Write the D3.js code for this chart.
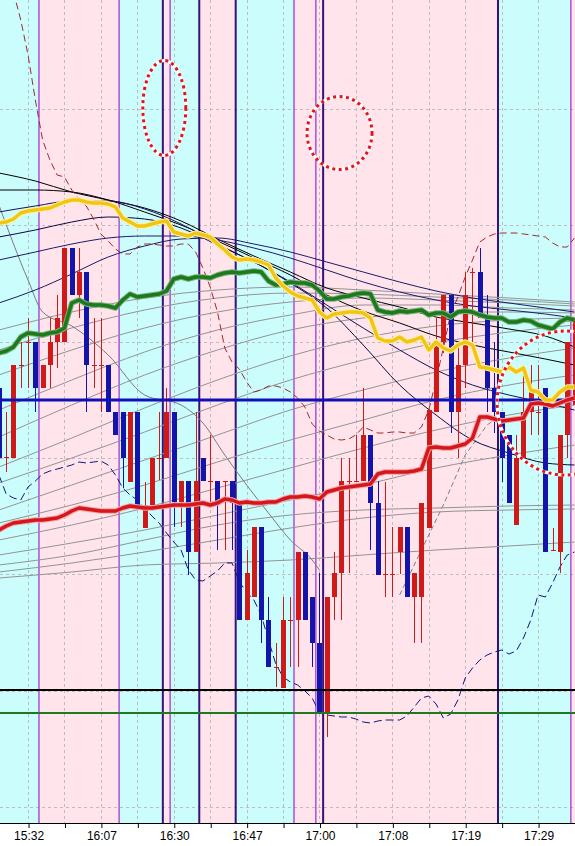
<!DOCTYPE html>
<html>
<head>
<meta charset="utf-8">
<script src="https://cdn.jsdelivr.net/npm/d3@7"></script>
<style>
  html, body { margin: 0; padding: 0; background: #fff; }
  svg { display: block; }
</style>
</head>
<body>
<div id="chart"></div>
<script>
// ---- bar data (one entry per bar, price) ----
const opens = [
  110.435,110.365,110.365,110.458,110.481,110.481,110.435,110.458,110.481,110.481,
  110.575,110.528,110.551,110.458,110.458,110.458,110.411,110.411,110.341,110.411,
  110.295,110.318,110.365,110.365,110.411,110.321,110.342,110.271,110.365,110.342,
  110.342,110.342,110.342,110.318,110.203,110.226,110.296,110.203,110.156,110.135,
  110.203,110.203,110.271,110.226,110.180,110.111,110.226,110.250,110.342,110.342,
  110.342,110.388,110.320,110.249,110.249,110.271,110.296,110.226,110.226,110.295,
  110.411,110.481,110.528,110.411,110.458,110.551,110.551,110.505,110.435,110.411,
  110.388,110.298,110.365,110.411,110.411,110.435,110.273,110.271,110.388,110.418];
const highs = [
  110.438,110.411,110.458,110.481,110.505,110.481,110.458,110.505,110.528,110.575,
  110.575,110.575,110.551,110.505,110.505,110.458,110.411,110.411,110.411,110.411,
  110.341,110.365,110.411,110.435,110.411,110.342,110.342,110.411,110.365,110.388,
  110.342,110.342,110.342,110.318,110.273,110.296,110.296,110.226,110.180,110.226,
  110.226,110.271,110.271,110.226,110.250,110.226,110.271,110.365,110.365,110.388,
  110.435,110.388,110.342,110.341,110.296,110.296,110.296,110.250,110.320,110.413,
  110.505,110.528,110.528,110.481,110.551,110.555,110.575,110.528,110.481,110.411,
  110.388,110.388,110.458,110.458,110.458,110.435,110.295,110.388,110.481,110.505];
const lows = [
  110.361,110.351,110.365,110.435,110.435,110.411,110.435,110.435,110.455,110.481,
  110.528,110.505,110.411,110.435,110.411,110.411,110.388,110.335,110.341,110.318,
  110.295,110.318,110.343,110.365,110.296,110.296,110.248,110.271,110.342,110.320,
  110.273,110.273,110.273,110.203,110.203,110.226,110.180,110.156,110.136,110.135,
  110.156,110.156,110.203,110.156,110.111,110.086,110.203,110.203,110.250,110.342,
  110.342,110.273,110.248,110.226,110.226,110.249,110.226,110.180,110.180,110.295,
  110.411,110.470,110.390,110.365,110.435,110.481,110.505,110.411,110.390,110.341,
  110.320,110.298,110.365,110.388,110.388,110.271,110.273,110.250,110.365,110.418];
const closes = [
  110.365,110.366,110.458,110.458,110.481,110.435,110.458,110.481,110.505,110.575,
  110.528,110.551,110.458,110.458,110.458,110.411,110.388,110.365,110.411,110.318,
  110.318,110.365,110.365,110.411,110.321,110.342,110.271,110.342,110.342,110.342,
  110.321,110.342,110.320,110.203,110.250,110.296,110.203,110.156,110.156,110.203,
  110.203,110.271,110.203,110.180,110.111,110.226,110.250,110.342,110.342,110.342,
  110.388,110.320,110.248,110.249,110.249,110.296,110.226,110.250,110.320,110.413,
  110.481,110.528,110.411,110.458,110.528,110.551,110.505,110.435,110.411,110.365,
  110.320,110.365,110.411,110.431,110.411,110.271,110.273,110.388,110.481,110.505];

// thick moving averages (per bar)
const maYellow = [
  110.600,110.601,110.604,110.610,110.612,110.613,110.614,110.615,110.618,110.621,
  110.623,110.623,110.621,110.620,110.620,110.619,110.616,110.605,110.601,110.597,
  110.597,110.599,110.601,110.602,110.591,110.589,110.587,110.590,110.588,110.586,
  110.579,110.573,110.566,110.563,110.564,110.563,110.561,110.558,110.545,110.537,
  110.531,110.527,110.525,110.523,110.511,110.505,110.509,110.510,110.511,110.511,
  110.510,110.505,110.485,110.482,110.482,110.486,110.481,110.483,110.486,110.473,
  110.481,110.475,110.472,110.478,110.481,110.478,110.456,110.455,110.453,110.451,
  110.456,110.451,110.455,110.433,110.431,110.423,110.423,110.431,110.436,110.436];
const maGreen = [
  110.470,110.472,110.476,110.486,110.490,110.489,110.488,110.490,110.491,110.495,
  110.520,110.523,110.519,110.518,110.518,110.517,110.515,110.523,110.529,110.526,
  110.527,110.528,110.529,110.532,110.544,110.546,110.544,110.546,110.546,110.545,
  110.548,110.550,110.551,110.550,110.551,110.552,110.551,110.542,110.538,110.539,
  110.541,110.540,110.540,110.538,110.532,110.524,110.524,110.526,110.527,110.529,
  110.530,110.529,110.513,110.511,110.510,110.512,110.511,110.512,110.513,110.508,
  110.510,110.510,110.506,110.511,110.512,110.511,110.508,110.506,110.505,110.505,
  110.501,110.501,110.503,110.502,110.498,110.496,110.494,110.501,110.505,110.503];
const maRed = [
  110.293,110.297,110.300,110.301,110.302,110.303,110.303,110.304,110.305,110.308,
  110.312,110.315,110.314,110.313,110.312,110.312,110.312,110.315,110.317,110.316,
  110.315,110.315,110.316,110.317,110.318,110.318,110.318,110.319,110.320,110.318,
  110.320,110.324,110.323,110.320,110.321,110.320,110.320,110.321,110.321,110.324,
  110.326,110.326,110.327,110.326,110.324,110.331,110.333,110.335,110.336,110.337,
  110.338,110.339,110.349,110.351,110.351,110.351,110.351,110.352,110.354,110.375,
  110.376,110.375,110.375,110.377,110.379,110.385,110.406,110.406,110.404,110.402,
  110.403,110.404,110.405,110.419,110.420,110.419,110.417,110.420,110.423,110.425];

// envelope bands (dashed)
const bandUpper = [
  null,null,110.831,110.803,110.768,110.723,110.683,110.663,110.648,110.646,
  110.633,110.624,110.617,110.604,110.589,110.582,110.574,110.569,110.569,110.576,
  110.579,110.579,110.578,110.577,110.577,110.579,110.579,110.571,110.555,110.536,
  110.511,110.475,110.461,110.454,110.441,110.431,110.433,110.437,110.437,110.435,
  110.431,110.425,110.416,110.399,110.392,110.388,110.384,110.383,110.384,110.388,
  110.396,110.393,110.390,110.390,110.391,110.391,110.390,110.390,110.396,110.413,
  110.443,110.475,110.509,110.526,110.546,110.563,110.581,110.586,110.589,110.590,
  110.590,110.590,110.589,110.588,110.587,110.586,110.580,110.576,110.576,110.585];
const bandLower = [
  110.348,110.329,110.325,110.323,110.336,110.342,110.349,110.352,110.354,110.356,
  110.358,110.361,110.360,110.361,110.362,110.358,110.348,110.335,110.328,110.323,
  110.315,110.307,110.300,110.290,110.281,110.273,110.253,110.243,110.242,110.247,
  110.252,110.260,110.260,110.241,110.231,110.223,110.208,110.183,110.159,110.146,
  110.141,110.138,110.132,110.125,110.110,110.108,110.107,110.106,110.106,110.104,
  110.101,110.100,110.102,110.103,110.103,110.103,110.107,110.116,110.125,110.127,
  110.119,110.105,110.109,110.123,110.145,110.155,110.163,110.168,110.171,110.173,
  110.169,110.172,110.185,110.203,110.228,110.226,110.240,110.256,110.268,110.271];

// slow averages, read every 5 bars
const slowBars = [0,5,10,15,20,25,30,35,40,45,50,55,60,65,70,75,79];
const slowBlack1 = [110.650,110.642,110.631,110.623,110.615,110.602,110.584,110.567,110.551,110.535,110.525,110.516,110.506,110.500,110.494,110.487,110.476];
const slowBlack2 = [110.633,110.633,110.631,110.623,110.611,110.598,110.582,110.565,110.548,110.528,110.512,110.500,110.487,110.478,110.471,110.464,110.458];
const slowNavy1 = [110.611,110.617,110.622,110.622,110.614,110.599,110.579,110.561,110.541,110.518,110.495,110.473,110.453,110.438,110.428,110.420,110.413];
const slowNavy2 = [110.586,110.593,110.601,110.606,110.604,110.595,110.578,110.561,110.540,110.515,110.478,110.438,110.408,110.383,110.370,110.360,110.358];
const slowNavy3 = [110.563,110.571,110.579,110.585,110.587,110.587,110.583,110.575,110.565,110.553,110.541,110.531,110.523,110.517,110.513,110.509,110.505];
const slowNavy4 = [110.520,110.533,110.549,110.566,110.577,110.584,110.585,110.579,110.571,110.561,110.551,110.541,110.532,110.525,110.520,110.515,110.511];

// other-timeframe averages (gray), read every 10 bars
const grayBars = [0,10,20,30,40,50,60,70,79];
const grayLines = [
  [110.493,110.511,110.525,110.533,110.536,110.533,110.529,110.525,110.521],
  [110.473,110.495,110.513,110.525,110.530,110.529,110.526,110.523,110.519],
  [110.448,110.473,110.495,110.511,110.521,110.525,110.523,110.520,110.517],
  [110.413,110.443,110.471,110.493,110.508,110.518,110.518,110.515,110.513],
  [110.386,110.418,110.448,110.473,110.493,110.505,110.511,110.511,110.510],
  [110.356,110.385,110.415,110.443,110.467,110.485,110.497,110.503,110.505],
  [110.340,110.365,110.391,110.418,110.443,110.463,110.480,110.491,110.498],
  [110.313,110.338,110.363,110.388,110.413,110.433,110.451,110.465,110.475],
  [110.300,110.318,110.338,110.361,110.383,110.403,110.423,110.438,110.448],
  [110.283,110.298,110.315,110.335,110.355,110.375,110.393,110.408,110.418],
  [110.268,110.280,110.293,110.308,110.323,110.338,110.355,110.368,110.378],
  [110.258,110.268,110.283,110.298,110.308,110.313,110.315,110.317,110.318],
  [110.251,110.260,110.271,110.283,110.295,110.305,110.311,110.313,110.314],
  [110.245,110.251,110.258,110.260,110.263,110.268,110.273,110.277,110.281]];
const fallBars = [0,4,6,10,15,20,25,28,31,34,37,40,43,44];
const fallLine = [110.618,110.543,110.511,110.497,110.468,110.428,110.418,110.400,110.368,110.338,110.310,110.283,110.263,110.253];
const riseBars = [55,58,61,64,67,69];
const riseLine = [110.228,110.273,110.318,110.368,110.398,110.408];

// horizontal levels
const levelBlue = 110.423, levelBlack = 110.133, levelGreen = 110.110;
const gridLevels = [110.016,110.132,110.249,110.365,110.481,110.598,110.714];

// session separators (bar positions) and background zones
const sepPos  = [5.5,16.5,22.5,23.5,27.5,32.5,40.5,43.5,44.5,68.5,78.5];
const sepDark = [false,false,true,false,true,true,false,false,true,true,false];
const zoneEdges = [-1,5.5,16.5,22.5,23.5,27.5,32.5,40.5,68.5,78.5,80];
const zonePink  = [false,true,false,true,false,true,false,true,false,true];

// time axis
const gridBars = d3.range(4, 80, 5);
const labelBars = [4,14,24,34,44,54,64,74];
const labelText = ["15:32","16:07","16:30","16:47","17:00","17:08","17:19","17:29"];

// hand-drawn marks: [centre bar, centre price, radius in bars, radius in price]
const marks = [[22.7,110.715,2.95,0.0475],[46.75,110.690,4.46,0.0365],[77.7,110.420,9.33,0.072]];

const W = 575, H = 846, plotH = 823;
const svg = d3.select("#chart").append("svg").attr("width", W).attr("height", H);
svg.append("rect").attr("width", W).attr("height", H).attr("fill", "#fff");

const x = d3.scaleLinear().domain([0, 79]).range([-1.1, 574.5]);
const y = d3.scaleLinear().domain([110.0, 110.823]).range([plotH, 0]);

svg.append("clipPath").attr("id", "clip").append("rect").attr("width", W).attr("height", plotH);
const plot = svg.append("g").attr("clip-path", "url(#clip)");

// background zones
plot.append("g").selectAll("rect").data(zonePink).join("rect")
  .attr("x", (d, i) => x(zoneEdges[i]))
  .attr("width", (d, i) => x(zoneEdges[i + 1]) - x(zoneEdges[i]))
  .attr("y", 0).attr("height", plotH)
  .attr("fill", d => d ? "#ffe4ec" : "#ccfdfd");

// grid
const grid = plot.append("g").attr("stroke", "#bdbdbd").attr("stroke-dasharray", "3,3");
grid.selectAll(".gx").data(gridBars).join("line").attr("class", "gx")
  .attr("x1", d => Math.round(x(d)) + 0.5).attr("x2", d => Math.round(x(d)) + 0.5)
  .attr("y1", 0).attr("y2", plotH);
grid.selectAll(".gy").data(gridLevels).join("line").attr("class", "gy")
  .attr("x1", 0).attr("x2", W)
  .attr("y1", d => Math.round(y(d)) + 0.5).attr("y2", d => Math.round(y(d)) + 0.5);

// separators
plot.append("g").selectAll("line").data(sepPos).join("line")
  .attr("x1", d => x(d)).attr("x2", d => x(d)).attr("y1", 0).attr("y2", plotH)
  .attr("stroke", (d, i) => sepDark[i] ? "#38107a" : "#a446d4")
  .attr("stroke-width", (d, i) => sepDark[i] ? 2 : 1.4);

function pathAt(bars, vals, curve) {
  return d3.line().defined(d => d != null)
    .x((d, i) => x(bars[i])).y(d => y(d)).curve(curve || d3.curveLinear)(vals);
}
const allBars = d3.range(opens.length);

// gray averages
const gray = plot.append("g").attr("fill", "none").attr("stroke", "#939393").attr("stroke-width", 1);
grayLines.forEach(v => gray.append("path").attr("d", pathAt(grayBars, v, d3.curveMonotoneX)));
gray.append("path").attr("d", pathAt(fallBars, fallLine, d3.curveMonotoneX)).attr("stroke", "#7a7a7a");
gray.append("path").attr("d", pathAt(riseBars, riseLine)).attr("stroke", "#808080").attr("stroke-dasharray", "5,3");

// slow dark averages
const slow = plot.append("g").attr("fill", "none").attr("stroke-width", 1);
[[slowBlack1, "#000"], [slowBlack2, "#000"], [slowNavy1, "#14145a"], [slowNavy2, "#0a0a40"],
 [slowNavy3, "#1c1c66"], [slowNavy4, "#1c1c66"]].forEach(([v, c]) =>
  slow.append("path").attr("d", pathAt(slowBars, v, d3.curveMonotoneX)).attr("stroke", c));

// envelope bands
plot.append("path").attr("d", pathAt(allBars, bandUpper)).attr("fill", "none")
  .attr("stroke", "#a3282a").attr("stroke-width", 1).attr("stroke-dasharray", "7,4");
plot.append("path").attr("d", pathAt(allBars, bandLower)).attr("fill", "none")
  .attr("stroke", "#141478").attr("stroke-width", 1).attr("stroke-dasharray", "8,4");

// candles
const upCol = "#d01a1a", downCol = "#1414aa";
const bars = allBars.map(i => ({ i, o: opens[i], h: highs[i], l: lows[i], c: closes[i] }));
const candle = plot.append("g").selectAll("g").data(bars).join("g");
candle.append("line")
  .attr("x1", d => Math.round(x(d.i)) + 0.5).attr("x2", d => Math.round(x(d.i)) + 0.5)
  .attr("y1", d => y(d.h)).attr("y2", d => y(d.l))
  .attr("stroke", d => d.c >= d.o ? upCol : downCol).attr("stroke-width", 1);
candle.append("rect")
  .attr("x", d => Math.round(x(d.i)) - 2).attr("width", 5)
  .attr("y", d => y(Math.max(d.o, d.c)))
  .attr("height", d => Math.max(1, Math.abs(y(d.o) - y(d.c))))
  .attr("fill", d => d.c >= d.o ? upCol : downCol);

// horizontal levels
plot.append("line").attr("x1", 0).attr("x2", W).attr("y1", y(levelBlue)).attr("y2", y(levelBlue))
  .attr("stroke", "#1010bb").attr("stroke-width", 3);
plot.append("line").attr("x1", 0).attr("x2", W).attr("y1", y(levelBlack)).attr("y2", y(levelBlack))
  .attr("stroke", "#000").attr("stroke-width", 2);
plot.append("line").attr("x1", 0).attr("x2", W).attr("y1", y(levelGreen)).attr("y2", y(levelGreen))
  .attr("stroke", "#1f7a1f").attr("stroke-width", 2);

// thick averages
function thick(v, halo, core) {
  const d = pathAt(allBars, v);
  plot.append("path").attr("d", d).attr("fill", "none").attr("stroke", halo)
    .attr("stroke-width", 5.5).attr("stroke-linejoin", "round");
  plot.append("path").attr("d", d).attr("fill", "none").attr("stroke", core)
    .attr("stroke-width", 3.5).attr("stroke-linejoin", "round");
}
thick(maRed, "#f3a3a3", "#d5161c");
thick(maGreen, "#79b079", "#1c7a1c");
thick(maYellow, "#fff2a0", "#f2c414");

// dotted ellipses
const mk = plot.append("g").attr("fill", "none");
marks.forEach(([cb, cp, rb, rp]) => {
  const e = { cx: x(cb), cy: y(cp), rx: x(cb + rb) - x(cb), ry: y(cp - rp) - y(cp) };
  mk.append("ellipse").attr("cx", e.cx).attr("cy", e.cy).attr("rx", e.rx).attr("ry", e.ry)
    .attr("stroke", "#fff").attr("stroke-width", 3.2);
  mk.append("ellipse").attr("cx", e.cx).attr("cy", e.cy).attr("rx", e.rx).attr("ry", e.ry)
    .attr("stroke", "#e3141c").attr("stroke-width", 3).attr("stroke-dasharray", "3,3.5");
});

// time axis
const lab = new Map(labelBars.map((b, i) => [b, labelText[i]]));
const ax = svg.append("g").attr("transform", `translate(0.5,${plotH})`)
  .call(d3.axisBottom(x).tickValues(gridBars).tickSize(5).tickSizeOuter(0).tickPadding(3)
    .tickFormat(b => lab.get(b) || ""));
ax.select(".domain").remove();
ax.selectAll("line").attr("stroke", "#000");
ax.selectAll("text").attr("fill", "#000").attr("font-size", 12)
  .attr("font-family", "'Liberation Sans', Arial, sans-serif");
svg.append("line").attr("x1", 0).attr("x2", W).attr("y1", plotH + 0.5).attr("y2", plotH + 0.5)
  .attr("stroke", "#000");
</script>
</body>
</html>
